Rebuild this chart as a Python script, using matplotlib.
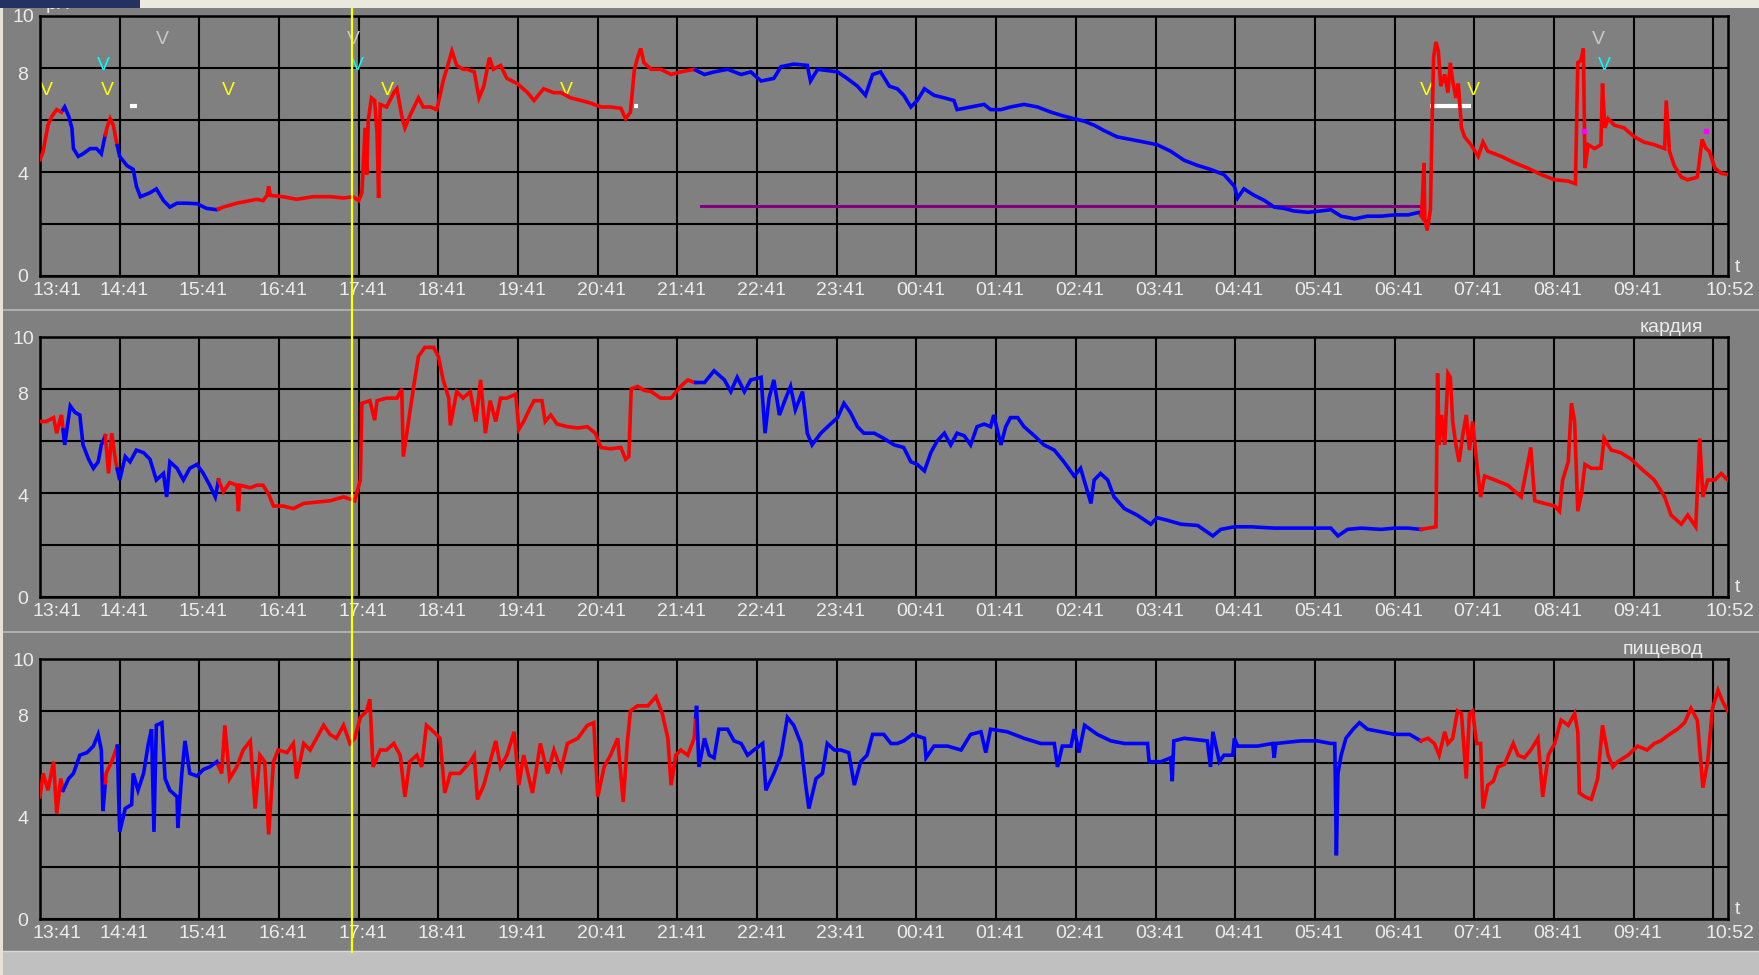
import numpy as np
import matplotlib
matplotlib.use("Agg")
import matplotlib.pyplot as plt
from matplotlib.lines import Line2D
from matplotlib.patches import Rectangle
from matplotlib.transforms import blended_transform_factory as blend, offset_copy

# ---------------- data ----------------
T_END = 21.18                      # 13:41 -> 10:52, hours
HOUR_LABELS = ["13:41", "14:41", "15:41", "16:41", "17:41", "18:41", "19:41",
               "20:41", "21:41", "22:41", "23:41", "00:41", "01:41", "02:41",
               "03:41", "04:41", "05:41", "06:41", "07:41", "08:41", "09:41"]
END_LABEL = "10:52"
Y_LABELS = [10, 8, 4, 0]
CHANNEL_NAMES = ["тело", "кардия", "пищевод"]

# supine periods (blue); rest of the time upright (red)
SUPINE = [(0.29, 0.82), (0.97, 2.24), (8.23, 17.33)]

TELO = [(0.00, 4.47), (0.04, 4.8), (0.10, 5.8), (0.15, 6.15), (0.21, 6.4), (0.27, 6.3),
        (0.31, 6.5), (0.36, 6.15), (0.40, 5.7), (0.42, 4.9), (0.48, 4.6), (0.54, 4.7),
        (0.63, 4.9), (0.71, 4.9), (0.77, 4.7), (0.80, 5.15), (0.84, 5.7), (0.88, 6.05),
        (0.92, 5.8), (0.96, 5.15), (1.00, 4.6), (1.09, 4.25), (1.17, 4.1), (1.21, 3.45),
        (1.26, 3.05), (1.38, 3.2), (1.46, 3.35), (1.55, 2.9), (1.63, 2.65), (1.72, 2.8),
        (1.84, 2.8), (1.97, 2.78), (2.09, 2.6), (2.22, 2.55), (2.30, 2.65), (2.47, 2.8),
        (2.72, 2.95), (2.80, 2.9), (2.85, 3.1), (2.87, 3.45), (2.89, 3.1), (3.05, 3.05),
        (3.22, 2.95), (3.43, 3.05), (3.64, 3.05), (3.81, 3.0), (3.93, 3.05), (4.00, 2.9),
        (4.04, 3.2), (4.08, 5.7), (4.10, 3.9), (4.12, 6.0), (4.16, 6.85), (4.20, 6.75),
        (4.23, 5.5), (4.25, 3.0), (4.27, 6.6), (4.35, 6.5), (4.44, 7.05), (4.48, 7.2),
        (4.54, 6.15), (4.58, 5.7), (4.64, 6.15), (4.75, 6.85), (4.81, 6.5), (4.90, 6.5),
        (4.98, 6.4), (5.06, 7.5), (5.17, 8.65), (5.23, 8.1), (5.31, 7.95), (5.36, 7.95),
        (5.45, 7.85), (5.51, 6.85), (5.57, 7.3), (5.64, 8.4), (5.69, 7.95), (5.78, 8.1),
        (5.86, 7.6), (5.99, 7.4), (6.12, 7.05), (6.20, 6.75), (6.32, 7.2), (6.45, 7.05),
        (6.54, 7.05), (6.66, 6.85), (6.79, 6.75), (6.91, 6.65), (7.04, 6.5), (7.16, 6.5),
        (7.29, 6.45), (7.35, 6.05), (7.41, 6.3), (7.46, 7.95), (7.50, 8.4), (7.54, 8.75),
        (7.58, 8.2), (7.67, 7.95), (7.79, 7.95), (7.92, 7.75), (8.04, 7.85), (8.21, 7.95),
        (8.34, 7.75), (8.46, 7.85), (8.63, 7.95), (8.80, 7.75), (8.92, 7.85), (9.05, 7.5),
        (9.21, 7.6), (9.30, 8.05), (9.46, 8.15), (9.63, 8.1), (9.67, 7.5), (9.76, 7.95),
        (10.01, 7.85), (10.13, 7.6), (10.26, 7.3), (10.36, 6.95), (10.45, 7.75), (10.55, 7.85),
        (10.66, 7.3), (10.76, 7.2), (10.84, 6.95), (10.93, 6.5), (11.01, 6.75), (11.10, 7.2),
        (11.22, 6.95), (11.35, 6.85), (11.47, 6.75), (11.51, 6.4), (11.68, 6.5), (11.85, 6.6),
        (11.93, 6.4), (12.06, 6.4), (12.18, 6.5), (12.35, 6.6), (12.52, 6.5), (12.69, 6.3),
        (12.85, 6.15), (12.98, 6.05), (13.11, 5.95), (13.23, 5.8), (13.35, 5.6), (13.52, 5.35),
        (13.69, 5.25), (13.86, 5.15), (14.02, 5.05), (14.19, 4.8), (14.36, 4.45), (14.53, 4.25),
        (14.69, 4.1), (14.86, 3.9), (14.99, 3.45), (15.03, 3.0), (15.11, 3.35), (15.24, 3.1),
        (15.37, 2.9), (15.49, 2.65), (15.61, 2.6), (15.74, 2.5), (15.91, 2.45), (16.07, 2.5),
        (16.20, 2.55), (16.33, 2.3), (16.50, 2.2), (16.66, 2.3), (16.83, 2.3), (17.00, 2.35),
        (17.17, 2.35), (17.31, 2.45), (17.34, 2.3), (17.37, 4.35), (17.38, 2.2), (17.41, 1.75),
        (17.45, 2.55), (17.47, 5.7), (17.49, 8.4), (17.52, 9.0), (17.55, 8.65), (17.58, 7.3),
        (17.63, 7.75), (17.67, 7.05), (17.70, 8.2), (17.73, 7.5), (17.77, 6.85), (17.80, 7.4),
        (17.84, 5.7), (17.88, 5.35), (17.96, 5.05), (18.05, 4.6), (18.11, 5.15), (18.17, 4.8),
        (18.34, 4.6), (18.51, 4.35), (18.67, 4.15), (18.84, 3.9), (19.01, 3.7), (19.18, 3.65),
        (19.27, 3.55), (19.30, 8.2), (19.34, 8.3), (19.37, 8.75), (19.39, 4.15), (19.43, 5.05),
        (19.51, 4.9), (19.59, 5.05), (19.61, 7.4), (19.64, 5.7), (19.68, 6.05), (19.76, 5.8),
        (19.88, 5.7), (20.01, 5.35), (20.13, 5.15), (20.26, 5.05), (20.39, 4.9), (20.41, 6.75),
        (20.45, 4.8), (20.51, 4.25), (20.60, 3.8), (20.68, 3.7), (20.80, 3.8), (20.86, 5.25),
        (20.91, 4.9), (20.95, 4.8), (21.02, 4.15), (21.10, 3.95), (21.18, 3.9)]

KARDIA = [(0.00, 6.75), (0.08, 6.75), (0.17, 6.9), (0.21, 6.3), (0.25, 6.8), (0.27, 7.0),
          (0.31, 5.85), (0.38, 7.35), (0.44, 7.1), (0.50, 7.0), (0.54, 5.85), (0.61, 5.3),
          (0.67, 4.95), (0.73, 5.2), (0.77, 5.85), (0.82, 6.2), (0.86, 4.75), (0.90, 6.3),
          (0.95, 5.2), (1.00, 4.5), (1.07, 5.4), (1.13, 5.2), (1.21, 5.65), (1.30, 5.55),
          (1.38, 5.3), (1.46, 4.5), (1.55, 4.75), (1.59, 3.85), (1.63, 5.2), (1.72, 4.95),
          (1.80, 4.5), (1.88, 4.95), (1.97, 5.1), (2.05, 4.75), (2.13, 4.3), (2.20, 3.85),
          (2.24, 4.5), (2.30, 4.05), (2.38, 4.4), (2.47, 4.3), (2.49, 3.3), (2.51, 4.3),
          (2.64, 4.2), (2.72, 4.3), (2.80, 4.3), (2.87, 3.95), (2.93, 3.5), (3.05, 3.5),
          (3.18, 3.4), (3.31, 3.6), (3.47, 3.65), (3.64, 3.7), (3.81, 3.85), (3.95, 3.7),
          (4.02, 4.5), (4.04, 7.45), (4.14, 7.55), (4.20, 6.8), (4.23, 7.55), (4.35, 7.65),
          (4.48, 7.65), (4.54, 8.0), (4.56, 5.4), (4.62, 6.65), (4.69, 8.1), (4.75, 9.25),
          (4.83, 9.6), (4.94, 9.6), (5.00, 9.25), (5.06, 8.35), (5.13, 7.65), (5.15, 6.6),
          (5.23, 7.9), (5.31, 7.65), (5.40, 7.9), (5.47, 6.75), (5.53, 8.35), (5.59, 6.3),
          (5.65, 7.55), (5.72, 6.75), (5.78, 7.65), (5.86, 7.65), (5.97, 7.8), (6.01, 6.45),
          (6.07, 6.75), (6.14, 7.2), (6.20, 7.55), (6.30, 7.55), (6.34, 6.75), (6.41, 7.0),
          (6.49, 6.65), (6.62, 6.55), (6.75, 6.5), (6.87, 6.55), (6.97, 6.3), (7.04, 5.75),
          (7.16, 5.7), (7.29, 5.75), (7.35, 5.3), (7.39, 5.4), (7.42, 8.0), (7.50, 8.1),
          (7.58, 7.95), (7.67, 7.9), (7.79, 7.65), (7.92, 7.65), (8.04, 8.1), (8.13, 8.35),
          (8.21, 8.25), (8.34, 8.25), (8.46, 8.7), (8.59, 8.35), (8.67, 7.9), (8.75, 8.45),
          (8.84, 7.9), (8.92, 8.35), (9.05, 8.45), (9.10, 6.3), (9.15, 7.65), (9.21, 8.35),
          (9.28, 7.0), (9.36, 7.65), (9.42, 8.1), (9.48, 7.2), (9.57, 7.9), (9.63, 6.3),
          (9.69, 5.85), (9.80, 6.3), (9.92, 6.65), (10.01, 6.9), (10.09, 7.45), (10.17, 7.1),
          (10.26, 6.55), (10.34, 6.3), (10.47, 6.3), (10.59, 6.1), (10.72, 5.85), (10.84, 5.75),
          (10.93, 5.2), (11.01, 5.1), (11.10, 4.85), (11.18, 5.55), (11.26, 6.0), (11.35, 6.3),
          (11.43, 5.85), (11.51, 6.3), (11.60, 6.2), (11.68, 5.85), (11.76, 6.55), (11.85, 6.65),
          (11.93, 6.55), (11.97, 7.0), (12.06, 5.85), (12.12, 6.55), (12.18, 6.9), (12.27, 6.9),
          (12.35, 6.55), (12.48, 6.2), (12.60, 5.85), (12.73, 5.65), (12.85, 5.2), (12.98, 4.65),
          (13.06, 4.95), (13.19, 3.6), (13.23, 4.5), (13.31, 4.75), (13.40, 4.5), (13.48, 3.85),
          (13.61, 3.4), (13.77, 3.15), (13.94, 2.8), (14.02, 3.05), (14.15, 2.95), (14.32, 2.8),
          (14.53, 2.75), (14.72, 2.35), (14.82, 2.6), (14.99, 2.7), (15.20, 2.7), (15.49, 2.65),
          (15.78, 2.65), (16.20, 2.65), (16.29, 2.35), (16.41, 2.6), (16.58, 2.65), (16.83, 2.6),
          (17.00, 2.65), (17.17, 2.65), (17.33, 2.6), (17.52, 2.7), (17.54, 8.6), (17.56, 5.85),
          (17.59, 7.0), (17.63, 5.85), (17.67, 8.6), (17.70, 8.45), (17.73, 6.75), (17.77, 5.85),
          (17.81, 5.2), (17.86, 6.3), (17.90, 7.0), (17.94, 5.65), (17.98, 6.75), (18.03, 5.2),
          (18.08, 3.85), (18.13, 4.65), (18.26, 4.5), (18.42, 4.3), (18.59, 3.85), (18.71, 5.75),
          (18.76, 3.7), (18.88, 3.6), (19.01, 3.5), (19.07, 3.3), (19.11, 4.5), (19.18, 5.2),
          (19.22, 7.45), (19.26, 6.75), (19.30, 3.3), (19.35, 4.05), (19.39, 5.1), (19.47, 4.95),
          (19.59, 4.95), (19.63, 6.1), (19.72, 5.65), (19.84, 5.55), (19.97, 5.3), (20.09, 4.95),
          (20.26, 4.5), (20.39, 3.85), (20.47, 3.15), (20.60, 2.8), (20.68, 3.15), (20.78, 2.7),
          (20.83, 6.1), (20.87, 3.85), (20.93, 4.5), (21.02, 4.5), (21.10, 4.75), (21.18, 4.5)]

PISCHEVOD = [(0.00, 4.7), (0.04, 5.6), (0.10, 4.95), (0.17, 6.05), (0.21, 4.05), (0.26, 5.4),
             (0.29, 4.95), (0.36, 5.4), (0.42, 5.6), (0.50, 6.3), (0.59, 6.4), (0.67, 6.65),
             (0.73, 7.1), (0.77, 6.5), (0.79, 4.15), (0.83, 5.6), (0.90, 6.05), (0.97, 6.65),
             (1.00, 3.35), (1.07, 4.25), (1.15, 4.4), (1.17, 5.6), (1.23, 4.95), (1.30, 5.6),
             (1.36, 6.75), (1.40, 7.3), (1.43, 3.35), (1.46, 7.45), (1.53, 7.55), (1.57, 5.4),
             (1.63, 4.95), (1.72, 4.7), (1.73, 3.5), (1.78, 5.6), (1.82, 6.85), (1.88, 5.6),
             (1.97, 5.5), (2.05, 5.75), (2.13, 5.85), (2.22, 6.05), (2.28, 5.6), (2.32, 7.45),
             (2.38, 5.4), (2.47, 5.85), (2.55, 6.5), (2.64, 6.85), (2.70, 4.25), (2.76, 6.3),
             (2.82, 6.05), (2.87, 3.25), (2.93, 6.05), (2.99, 6.5), (3.10, 6.4), (3.18, 6.75),
             (3.22, 5.4), (3.31, 6.75), (3.39, 6.5), (3.47, 6.95), (3.56, 7.45), (3.64, 7.1),
             (3.72, 6.95), (3.81, 7.45), (3.89, 6.75), (3.95, 6.95), (4.02, 7.75), (4.10, 8.0),
             (4.14, 8.45), (4.18, 5.85), (4.27, 6.5), (4.35, 6.5), (4.44, 6.75), (4.52, 6.3),
             (4.58, 4.7), (4.64, 6.05), (4.73, 6.3), (4.79, 5.85), (4.85, 7.45), (4.94, 7.2),
             (5.02, 6.95), (5.08, 4.85), (5.15, 5.6), (5.27, 5.6), (5.40, 6.05), (5.45, 6.3),
             (5.49, 4.6), (5.57, 5.15), (5.65, 6.05), (5.72, 6.85), (5.78, 5.85), (5.86, 6.3),
             (5.95, 7.2), (6.01, 5.15), (6.07, 6.3), (6.18, 4.85), (6.28, 6.75), (6.37, 5.6),
             (6.45, 6.5), (6.54, 5.75), (6.62, 6.75), (6.75, 6.95), (6.87, 7.45), (6.95, 7.55),
             (7.00, 4.7), (7.08, 5.85), (7.16, 6.3), (7.25, 6.95), (7.32, 4.5), (7.37, 6.75),
             (7.41, 8.0), (7.50, 8.2), (7.63, 8.2), (7.73, 8.55), (7.81, 7.9), (7.88, 6.95),
             (7.92, 5.15), (7.98, 6.3), (8.04, 6.5), (8.13, 6.3), (8.21, 6.95), (8.24, 8.2),
             (8.27, 5.85), (8.34, 6.95), (8.40, 6.3), (8.46, 6.2), (8.52, 7.3), (8.63, 7.3),
             (8.71, 6.85), (8.80, 6.75), (8.88, 6.3), (8.96, 6.5), (9.07, 6.75), (9.11, 4.95),
             (9.21, 5.6), (9.30, 6.3), (9.38, 7.75), (9.46, 7.45), (9.55, 6.75), (9.61, 5.15),
             (9.65, 4.25), (9.74, 5.4), (9.82, 5.6), (9.88, 6.75), (9.97, 6.5), (10.05, 6.5),
             (10.15, 6.4), (10.22, 5.15), (10.30, 6.05), (10.38, 6.3), (10.45, 7.1), (10.59, 7.1),
             (10.68, 6.75), (10.76, 6.75), (10.84, 6.85), (10.95, 7.1), (11.10, 6.95), (11.12, 6.2),
             (11.22, 6.65), (11.39, 6.65), (11.56, 6.5), (11.68, 7.1), (11.81, 7.2), (11.87, 6.4),
             (11.93, 7.3), (12.14, 7.2), (12.35, 6.95), (12.56, 6.75), (12.73, 6.75), (12.77, 5.85),
             (12.83, 6.65), (12.94, 6.65), (12.98, 7.3), (13.04, 6.4), (13.11, 7.45), (13.27, 7.1),
             (13.44, 6.85), (13.61, 6.75), (13.90, 6.75), (13.92, 6.05), (14.07, 6.05), (14.19, 6.2),
             (14.21, 5.3), (14.23, 6.85), (14.36, 6.95), (14.65, 6.85), (14.69, 5.85), (14.72, 7.2),
             (14.80, 6.05), (14.86, 6.3), (14.97, 6.3), (14.99, 6.95), (15.03, 6.65), (15.28, 6.65),
             (15.47, 6.75), (15.49, 6.2), (15.51, 6.75), (15.82, 6.85), (16.03, 6.85), (16.20, 6.75),
             (16.25, 6.75), (16.27, 2.45), (16.29, 5.6), (16.33, 6.3), (16.39, 6.95), (16.48, 7.3),
             (16.56, 7.55), (16.66, 7.3), (16.83, 7.2), (17.00, 7.1), (17.19, 7.1), (17.33, 6.85),
             (17.42, 6.95), (17.50, 6.75), (17.56, 6.3), (17.63, 7.2), (17.67, 6.75), (17.73, 6.95),
             (17.79, 8.0), (17.84, 7.9), (17.90, 5.4), (17.94, 7.9), (17.98, 8.0), (18.03, 6.75),
             (18.08, 6.75), (18.11, 4.25), (18.17, 5.15), (18.24, 5.3), (18.30, 5.85), (18.38, 5.95),
             (18.49, 6.75), (18.55, 6.3), (18.63, 6.2), (18.71, 6.5), (18.80, 6.95), (18.86, 4.7),
             (18.93, 6.3), (19.01, 6.75), (19.09, 7.65), (19.18, 7.45), (19.26, 7.9), (19.30, 7.2),
             (19.32, 4.85), (19.39, 4.7), (19.47, 4.6), (19.55, 5.4), (19.61, 7.45), (19.68, 6.3),
             (19.74, 5.85), (19.80, 6.05), (19.93, 6.3), (20.05, 6.65), (20.17, 6.5), (20.26, 6.75),
             (20.34, 6.85), (20.45, 7.1), (20.55, 7.3), (20.64, 7.55), (20.72, 8.1), (20.80, 7.65),
             (20.87, 5.05), (20.93, 6.05), (20.99, 8.1), (21.06, 8.8), (21.12, 8.35), (21.18, 8.0)]

# event markers in the top panel ("V" glyphs): times (h), level
EVENT_YELLOW_T = [0.075, 0.84, 2.37, 4.36, 6.61, 17.40, 17.99]
EVENT_YELLOW_Y = 7.15
EVENT_CYAN_T = [0.79, 3.98, 19.63]
EVENT_CYAN_Y = 8.08
EVENT_GREY_T = [1.54, 3.93, 19.56]
EVENT_GREY_Y = 9.08
WHITE_MARKS = [(1.13, 1.22, 6.55), (7.46, 7.51, 6.55), (17.45, 17.96, 6.55)]
MAGENTA_T = [19.38, 20.91]
MAGENTA_Y = 5.58
PURPLE_LINE = (8.29, 17.33, 2.70)
CURSOR_T = 3.92

# ---------------- styling ----------------
W, H = 1759, 975
BG = "#808080"
RED = "#ff0000"
BLUE = "#0000ff"
TXT = "#ececec"
FONT = ["Liberation Sans", "DejaVu Sans"]
FS = 14

fig = plt.figure(figsize=(W / 100, H / 100), dpi=100, facecolor=BG)

def fx(px):
    return px / W

def fy(py):
    return 1 - py / H

panel_tops = [16, 337, 659]
panel_h = 260
ax_left, ax_right = 40, 1727.6

def is_supine(t):
    return any(a <= t < b for a, b in SUPINE)

def draw_trace(ax, pairs):
    t = np.array([p[0] for p in pairs])
    v = np.array([p[1] for p in pairs])
    bounds = sorted({0.0, T_END} | {a for a, b in SUPINE} | {b for a, b in SUPINE})
    tb = np.array(bounds)
    vb = np.interp(tb, t, v)
    tt = np.concatenate([t, tb])
    vv = np.concatenate([v, vb])
    order = np.argsort(tt, kind="stable")
    tt, vv = tt[order], vv[order]
    for a, b in zip(bounds[:-1], bounds[1:]):
        col = BLUE if is_supine(0.5 * (a + b)) else RED
        m = (tt >= a) & (tt <= b)
        ax.plot(tt[m], vv[m], color=col, lw=2.6, zorder=3, solid_joinstyle="miter")

axes = []
for i, (name, series) in enumerate(zip(CHANNEL_NAMES, [TELO, KARDIA, PISCHEVOD])):
    top = panel_tops[i]
    ax = fig.add_axes([fx(ax_left), fy(top + panel_h), fx(ax_right - ax_left), panel_h / H])
    axes.append(ax)
    ax.set_facecolor(BG)
    ax.set_xlim(0, T_END)
    ax.set_ylim(0, 10)
    ax.set_xticks(np.arange(0, 22))
    ax.set_yticks(np.arange(0, 11, 2))
    ax.set_axisbelow(True)
    ax.grid(True, color="black", lw=1.5)
    ax.tick_params(length=0, labelbottom=False, labelleft=False)
    for s in ax.spines.values():
        s.set_color("black")
        s.set_linewidth(1.8)

    draw_trace(ax, series)

    # x tick labels
    tr = blend(ax.transData, ax.transAxes)
    for h, lab in enumerate(HOUR_LABELS):
        if h == 0:
            t_ = offset_copy(tr, fig=fig, x=-7, y=-6, units="dots")
            ax.text(h, 0, lab, transform=t_, ha="left", va="top", color=TXT,
                    fontsize=FS, family=FONT)
        else:
            t_ = offset_copy(tr, fig=fig, x=4, y=-6, units="dots")
            ax.text(h, 0, lab, transform=t_, ha="center", va="top", color=TXT,
                    fontsize=FS, family=FONT)
    t_ = offset_copy(tr, fig=fig, x=2, y=-6, units="dots")
    ax.text(T_END, 0, END_LABEL, transform=t_, ha="center", va="top", color=TXT,
            fontsize=FS, family=FONT)

    # y labels
    try_ = blend(fig.transFigure, ax.transData)
    for yl in Y_LABELS:
        dy = -7 if yl == 8 else (-4 if yl == 4 else -2)
        t_ = offset_copy(try_, fig=fig, x=0, y=dy, units="dots")
        ax.text(fx(23), yl, str(yl), transform=t_, ha="center", va="center",
                color=TXT, fontsize=FS, family=FONT)

    # "t" axis mark
    fig.text(fx(1737), fy(top + panel_h - 9), "t", ha="center", va="center",
             color=TXT, fontsize=FS, family=FONT)
    # channel name
    fig.text(fx(1703), fy(top - 10 if i > 0 else 3), name, ha="right", va="center",
             color=TXT, fontsize=FS, family=FONT)

ax1 = axes[0]
for t in EVENT_YELLOW_T:
    ax1.text(t, EVENT_YELLOW_Y, "V", color="#ffff00", ha="center", va="center",
             fontsize=14, family=FONT, zorder=2)
for t in EVENT_CYAN_T:
    ax1.text(t, EVENT_CYAN_Y, "V", color="#00ffff", ha="center", va="center",
             fontsize=14, family=FONT, zorder=2)
for t in EVENT_GREY_T:
    ax1.text(t, EVENT_GREY_Y, "V", color="#c8c8c8", ha="center", va="center",
             fontsize=14, family=FONT, zorder=2)
for a, b, y in WHITE_MARKS:
    ax1.plot([a, b], [y, y], color="white", lw=3, solid_capstyle="butt", zorder=2)
ax1.plot(MAGENTA_T, [MAGENTA_Y] * len(MAGENTA_T), "s", color="#ff00ff", ms=2.5, zorder=4)
ax1.plot(PURPLE_LINE[:2], [PURPLE_LINE[2]] * 2, color="#800080", lw=2.2, zorder=2)

# pH label (mostly hidden under the top strip)
fig.text(fx(46), fy(13), "pH", ha="left", va="bottom", color=TXT, fontsize=FS, family=FONT)

# cursor line across all panels
fig.add_artist(Line2D([CURSOR_T, CURSOR_T], [fy(8), fy(952)], color="#ffff00", lw=1.6,
                      transform=blend(ax1.transData, fig.transFigure), zorder=6))

# separators and frame
for ysep in (310, 632):
    fig.add_artist(Line2D([fx(3), 1], [fy(ysep), fy(ysep)], color="#b4b4b4", lw=1.3,
                          transform=fig.transFigure, zorder=1))
fig.add_artist(Rectangle((0, 0), 1, 24 / H, transform=fig.transFigure,
                         facecolor="#c0c0c0", edgecolor="none", zorder=1))
fig.add_artist(Line2D([0, 1], [fy(951), fy(951)], color="#d8d8d8", lw=1.0,
                      transform=fig.transFigure, zorder=2))
fig.add_artist(Rectangle((0, 0), 3 / W, 1, transform=fig.transFigure,
                         facecolor="#e6e2d6", edgecolor="none", zorder=10))
fig.add_artist(Rectangle((0, fy(8)), 1, 8 / H, transform=fig.transFigure,
                         facecolor="#ebe8de", edgecolor="none", zorder=10))
fig.add_artist(Rectangle((0, fy(8)), fx(140), 8 / H, transform=fig.transFigure,
                         facecolor="#243262", edgecolor="none", zorder=11))

fig.savefig("out.png", dpi=100, facecolor=BG)
